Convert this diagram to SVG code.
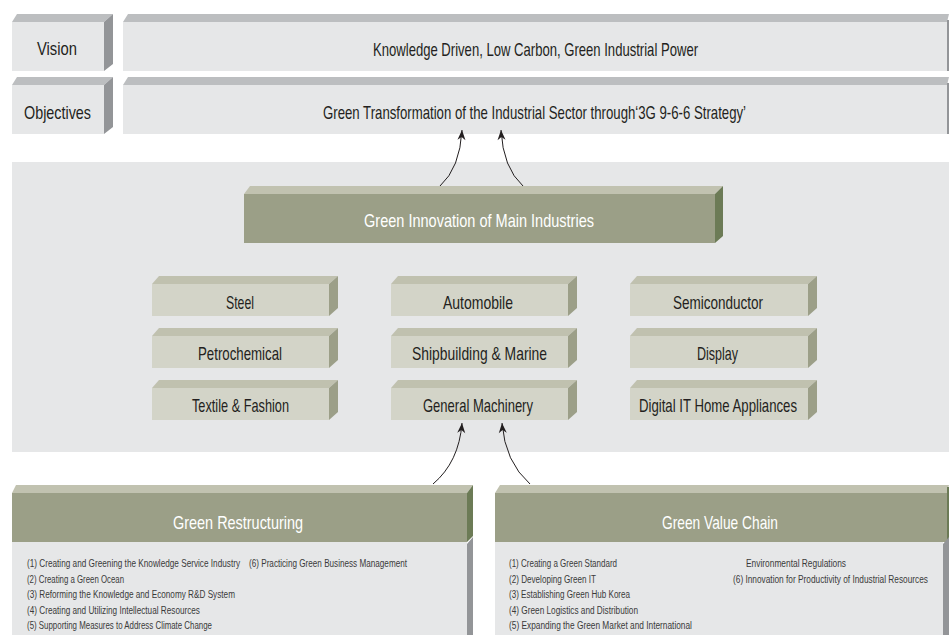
<svg xmlns="http://www.w3.org/2000/svg" width="949" height="635" viewBox="0 0 949 635">
<defs>
<style>
.bg{fill:#ffffff}
.panel{fill:#e6e7e8}
.gtop{fill:#bcbec0}
.gside{fill:#939598}
.gfront{fill:#e6e7e8}
.otop{fill:#c1c2b0}
.ofront{fill:#9b9f87}
.oside{fill:#6c7b56}
.itop{fill:#c0c1af}
.ifront{fill:#d3d4c8}
.iside{fill:#9c9f88}
.t{font-family:"Liberation Sans",Arial,sans-serif;font-size:19px;fill:#231f20}
.w{fill:#ffffff}
.s{font-size:11px;fill:#3a3a3a}
.conn{fill:none;stroke:#231f20;stroke-width:1}
</style>
<marker id="ah" markerUnits="userSpaceOnUse" markerWidth="14" markerHeight="12" viewBox="-11 -6 12 12" refX="0" refY="0" orient="auto">
<path d="M0,0 L-10,-4 L-7,0 L-10,4 Z" fill="#231f20"/>
</marker>
</defs>
<rect class="bg" x="0" y="0" width="949" height="635"/>
<rect class="panel" x="12" y="162" width="937" height="290"/>

<g id="vision-label">
<polygon class="gtop" points="12,22 17,14 113,14 104,22"/>
<polygon class="gside" points="104,22 113,14 113,64 104,71"/>
<rect class="gfront" x="12" y="22" width="92" height="49"/>
<text class="t" transform="translate(37,55) scale(0.7,1)" textLength="57.1" lengthAdjust="spacingAndGlyphs">Vision</text>
</g>
<g id="vision">
<polygon class="gtop" points="123,22 128,14 949,14 947,22"/>
<rect class="gside" x="947" y="20" width="2" height="51"/>
<rect class="gfront" x="123" y="22" width="824" height="49"/>
<text class="t" transform="translate(373,55.5) scale(0.7,1)" textLength="464.3" lengthAdjust="spacingAndGlyphs">Knowledge Driven, Low Carbon, Green Industrial Power</text>
</g>
<g id="objectives-label">
<polygon class="gtop" points="12,85 17,77 113,77 104,85"/>
<polygon class="gside" points="104,85 113,77 113,127 104,134"/>
<rect class="gfront" x="12" y="85" width="92" height="49"/>
<text class="t" transform="translate(24,118.5) scale(0.7,1)" textLength="95.7" lengthAdjust="spacingAndGlyphs">Objectives</text>
</g>
<g id="objectives">
<polygon class="gtop" points="123,85 128,77 949,77 947,85"/>
<rect class="gside" x="947" y="83" width="2" height="51"/>
<rect class="gfront" x="123" y="85" width="824" height="49"/>
<text class="t" transform="translate(323,119) scale(0.7,1)" textLength="604.3" lengthAdjust="spacingAndGlyphs">Green Transformation of the Industrial Sector through‘3G 9-6-6 Strategy’</text>
</g>

<g id="green-innovation">
<polygon class="otop" points="244,194 250,186 723,186 715,194"/>
<polygon class="oside" points="715,194 723,186 723,236 715,243"/>
<rect class="ofront" x="244" y="194" width="471" height="49"/>
<text class="t w" transform="translate(364,227) scale(0.7,1)" textLength="328.6" lengthAdjust="spacingAndGlyphs">Green Innovation of Main Industries</text>
</g>

<g id="steel">
<polygon class="itop" points="152,284 159,276 338,276 329,284"/>
<polygon class="iside" points="329,284 338,276 338,308 329,316"/>
<rect class="ifront" x="152" y="284" width="177" height="32"/>
<text class="t" transform="translate(226,309) scale(0.7,1)" textLength="40" lengthAdjust="spacingAndGlyphs">Steel</text>
</g>
<g id="automobile">
<polygon class="itop" points="391,284 398,276 577,276 568,284"/>
<polygon class="iside" points="568,284 577,276 577,308 568,316"/>
<rect class="ifront" x="391" y="284" width="177" height="32"/>
<text class="t" transform="translate(443,309) scale(0.7,1)" textLength="100" lengthAdjust="spacingAndGlyphs">Automobile</text>
</g>
<g id="semiconductor">
<polygon class="itop" points="630,284 637,276 817,276 808,284"/>
<polygon class="iside" points="808,284 817,276 817,308 808,316"/>
<rect class="ifront" x="630" y="284" width="178" height="32"/>
<text class="t" transform="translate(673,309) scale(0.7,1)" textLength="128.6" lengthAdjust="spacingAndGlyphs">Semiconductor</text>
</g>
<g id="petrochemical">
<polygon class="itop" points="152,336 159,328 338,328 329,336"/>
<polygon class="iside" points="329,336 338,328 338,360 329,368"/>
<rect class="ifront" x="152" y="336" width="177" height="32"/>
<text class="t" transform="translate(198,360) scale(0.7,1)" textLength="120" lengthAdjust="spacingAndGlyphs">Petrochemical</text>
</g>
<g id="shipbuilding">
<polygon class="itop" points="391,336 398,328 577,328 568,336"/>
<polygon class="iside" points="568,336 577,328 577,360 568,368"/>
<rect class="ifront" x="391" y="336" width="177" height="32"/>
<text class="t" transform="translate(412,360) scale(0.7,1)" textLength="192.9" lengthAdjust="spacingAndGlyphs">Shipbuilding &amp; Marine</text>
</g>
<g id="display">
<polygon class="itop" points="630,336 637,328 817,328 808,336"/>
<polygon class="iside" points="808,336 817,328 817,360 808,368"/>
<rect class="ifront" x="630" y="336" width="178" height="32"/>
<text class="t" transform="translate(697,360) scale(0.7,1)" textLength="58.6" lengthAdjust="spacingAndGlyphs">Display</text>
</g>
<g id="textile">
<polygon class="itop" points="152,388 159,380 338,380 329,388"/>
<polygon class="iside" points="329,388 338,380 338,412 329,420"/>
<rect class="ifront" x="152" y="388" width="177" height="32"/>
<text class="t" transform="translate(192,411.5) scale(0.7,1)" textLength="138.6" lengthAdjust="spacingAndGlyphs">Textile &amp; Fashion</text>
</g>
<g id="machinery">
<polygon class="itop" points="391,388 398,380 577,380 568,388"/>
<polygon class="iside" points="568,388 577,380 577,412 568,420"/>
<rect class="ifront" x="391" y="388" width="177" height="32"/>
<text class="t" transform="translate(423,411.5) scale(0.7,1)" textLength="157.1" lengthAdjust="spacingAndGlyphs">General Machinery</text>
</g>
<g id="digital-it">
<polygon class="itop" points="630,388 637,380 817,380 808,388"/>
<polygon class="iside" points="808,388 817,380 817,412 808,420"/>
<rect class="ifront" x="630" y="388" width="178" height="32"/>
<text class="t" transform="translate(639,411.5) scale(0.7,1)" textLength="225.7" lengthAdjust="spacingAndGlyphs">Digital IT Home Appliances</text>
</g>

<g id="green-restructuring">
<polygon class="otop" points="12,493 16,485 473,485 467,493"/>
<polygon class="oside" points="467,493 473,485 473,536 467,542"/>
<rect class="ofront" x="12" y="493" width="455" height="49"/>
<text class="t w" transform="translate(173,529) scale(0.7,1)" textLength="185.7" lengthAdjust="spacingAndGlyphs">Green Restructuring</text>
<polygon class="gside" points="467,544 473,537 473,635 467,635"/>
<rect class="gfront" x="12" y="542" width="455" height="93"/>
<text class="t s" transform="translate(27,567) scale(0.7,1)" textLength="304.3" lengthAdjust="spacingAndGlyphs">(1) Creating and Greening the Knowledge Service Industry</text>
<text class="t s" transform="translate(249,567) scale(0.7,1)" textLength="225.7" lengthAdjust="spacingAndGlyphs">(6) Practicing Green Business Management</text>
<text class="t s" transform="translate(27,582.5) scale(0.7,1)" textLength="138.6" lengthAdjust="spacingAndGlyphs">(2) Creating a Green Ocean</text>
<text class="t s" transform="translate(27,598) scale(0.7,1)" textLength="297.1" lengthAdjust="spacingAndGlyphs">(3) Reforming the Knowledge and Economy R&amp;D System</text>
<text class="t s" transform="translate(27,613.5) scale(0.7,1)" textLength="247.1" lengthAdjust="spacingAndGlyphs">(4) Creating and Utilizing Intellectual Resources</text>
<text class="t s" transform="translate(27,629) scale(0.7,1)" textLength="264.3" lengthAdjust="spacingAndGlyphs">(5) Supporting Measures to Address Climate Change</text>
</g>

<g id="green-value-chain">
<polygon class="otop" points="495,493 500,485 949,485 947,493"/>
<rect class="oside" x="947" y="487" width="2" height="55"/>
<rect class="ofront" x="495" y="493" width="452" height="49"/>
<text class="t w" transform="translate(662,529) scale(0.7,1)" textLength="165.7" lengthAdjust="spacingAndGlyphs">Green Value Chain</text>
<polygon class="gside" points="943,544 949,537 949,635 943,635"/>
<rect class="gfront" x="495" y="542" width="448" height="93"/>
<text class="t s" transform="translate(509,567) scale(0.7,1)" textLength="154.3" lengthAdjust="spacingAndGlyphs">(1) Creating a Green Standard</text>
<text class="t s" transform="translate(746,567) scale(0.7,1)" textLength="142.9" lengthAdjust="spacingAndGlyphs">Environmental Regulations</text>
<text class="t s" transform="translate(509,582.5) scale(0.7,1)" textLength="124.3" lengthAdjust="spacingAndGlyphs">(2) Developing Green IT</text>
<text class="t s" transform="translate(733,582.5) scale(0.7,1)" textLength="278.6" lengthAdjust="spacingAndGlyphs">(6) Innovation for Productivity of Industrial Resources</text>
<text class="t s" transform="translate(509,598) scale(0.7,1)" textLength="172.9" lengthAdjust="spacingAndGlyphs">(3) Establishing Green Hub Korea</text>
<text class="t s" transform="translate(509,613.5) scale(0.7,1)" textLength="184.3" lengthAdjust="spacingAndGlyphs">(4) Green Logistics and Distribution</text>
<text class="t s" transform="translate(509,629) scale(0.7,1)" textLength="261.4" lengthAdjust="spacingAndGlyphs">(5) Expanding the Green Market and International</text>
</g>

<g id="connectors">
<path class="conn" d="M440,186 Q460,168 462,130" marker-end="url(#ah)"/>
<path class="conn" d="M523,186 Q503,168 501,130" marker-end="url(#ah)"/>
<path class="conn" d="M433,484 Q459,462 462,423" marker-end="url(#ah)"/>
<path class="conn" d="M530,484 Q505,462 502,423" marker-end="url(#ah)"/>
</g>
</svg>
